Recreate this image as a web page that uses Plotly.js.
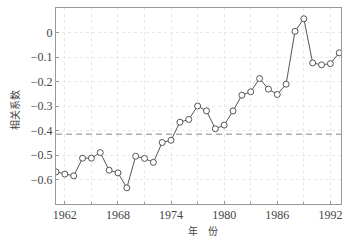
<!DOCTYPE html>
<html>
<head>
<meta charset="utf-8">
<script src="https://cdn.plot.ly/plotly-3.0.1.min.js"></script>
<style>html,body{margin:0;padding:0;background:#fff;}#chart{width:360px;height:245px;}</style>
</head>
<body>
<div id="chart"></div>
<script>
const years = [1961,1962,1963,1964,1965,1966,1967,1968,1969,1970,1971,1972,1973,1974,1975,1976,1977,1978,1979,1980,1981,1982,1983,1984,1985,1986,1987,1988,1989,1990,1991,1992,1993];
const corr = [-0.569,-0.578,-0.585,-0.513,-0.513,-0.490,-0.562,-0.573,-0.634,-0.505,-0.514,-0.530,-0.449,-0.440,-0.366,-0.355,-0.300,-0.320,-0.393,-0.378,-0.320,-0.256,-0.242,-0.188,-0.231,-0.253,-0.211,0.005,0.056,-0.124,-0.132,-0.127,-0.083];
const threshold = -0.415;
const xTickVals = [1962,1968,1974,1980,1986,1992];
const xTickText = ['1962','1968','1974','1980','1986','1992'];
const yTickVals = [0,-0.1,-0.2,-0.3,-0.4,-0.5,-0.6];
const yTickText = ['0','\u22120.1','\u22120.2','\u22120.3','\u22120.4','\u22120.5','\u22120.6'];
const xTitle = '年\u3000份';
const yTitle = '相关系数';

const serif = 'Liberation Serif';
const cjk = 'Noto Sans CJK SC';
const trace = {
  x: years, y: corr, type: 'scatter', mode: 'lines+markers',
  line: {color: '#555', width: 1},
  marker: {symbol: 'circle', size: 6, color: '#fff', line: {color: '#555', width: 1}},
  hoverinfo: 'skip', showlegend: false
};
const layout = {
  width: 360, height: 245,
  margin: {l: 56, r: 18.5, t: 8, b: 41},
  paper_bgcolor: '#fff', plot_bgcolor: '#fff',
  font: {family: serif, size: 12, color: '#444'},
  xaxis: {
    range: [1961, 1993.2], tickmode: 'array', tickvals: xTickVals, ticktext: xTickText,
    showline: true, mirror: true, linecolor: '#999', linewidth: 1,
    ticks: 'inside', ticklen: 3, tickcolor: '#999',
    showgrid: true, gridcolor: '#e8e8e8', griddash: 'dot', gridwidth: 1,
    minor: {dtick: 3, tick0: 1962, showgrid: true, gridcolor: '#e8e8e8', griddash: 'dot', ticks: 'inside', ticklen: 2, tickcolor: '#999'},
    zeroline: false, tickfont: {family: serif, size: 12, color: '#444'}
  },
  yaxis: {
    range: [-0.7, 0.1], tickmode: 'array', tickvals: yTickVals, ticktext: yTickText,
    showline: true, mirror: true, linecolor: '#999', linewidth: 1,
    ticks: 'inside', ticklen: 3, tickcolor: '#999',
    showgrid: true, gridcolor: '#e8e8e8', griddash: 'dot', gridwidth: 1,
    zeroline: false, tickfont: {family: serif, size: 12, color: '#444'}
  },
  annotations: [
    {text: xTitle, xref: 'paper', yref: 'paper', x: 0.515, y: -0.133, xanchor: 'center', yanchor: 'middle',
     showarrow: false, font: {family: cjk, size: 10, color: '#444'}},
    {text: yTitle, xref: 'paper', yref: 'paper', x: -0.144, y: 0.48, xanchor: 'center', yanchor: 'middle',
     textangle: -90, showarrow: false, font: {family: cjk, size: 10, color: '#444'}}
  ],
  shapes: [{
    type: 'line', xref: 'paper', x0: 0, x1: 1, yref: 'y', y0: threshold, y1: threshold,
    line: {color: '#888', width: 1, dash: '6px,4px'}
  }]
};
Plotly.newPlot('chart', [trace], layout, {staticPlot: true, displayModeBar: false});
</script>
</body>
</html>
